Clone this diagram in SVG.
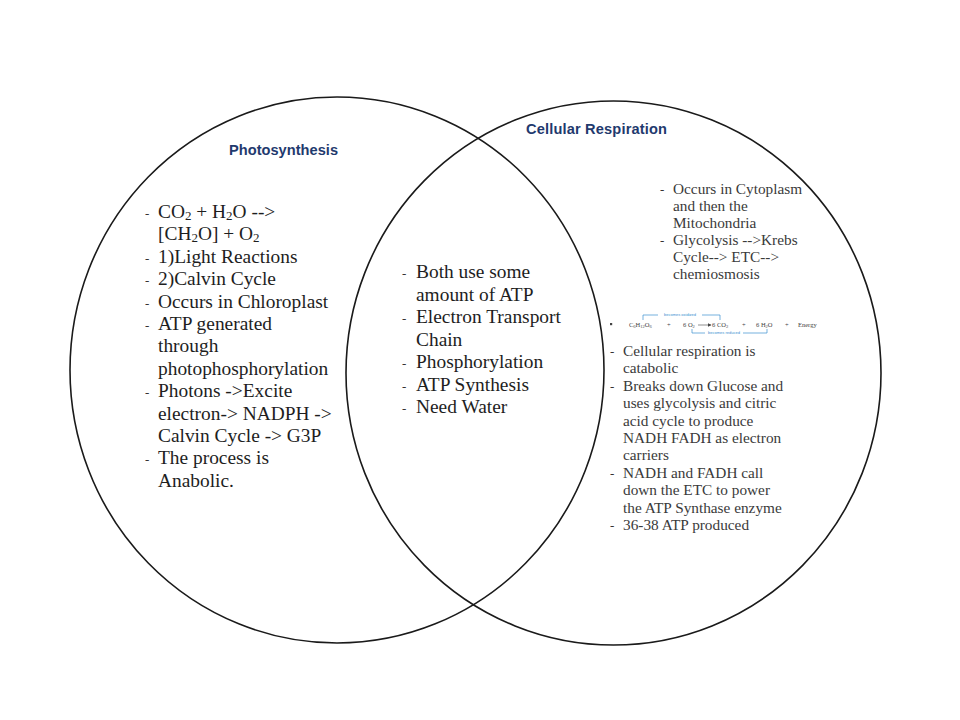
<svg xmlns="http://www.w3.org/2000/svg" width="960" height="720" viewBox="0 0 960 720">
<style>
.ring{fill:none;stroke:#1a1a1a;stroke-width:1.6}
.title{font-family:"Liberation Sans",Arial,sans-serif;font-weight:bold;font-size:14.6px;fill:#1f3a6e}
.body{font-family:"Liberation Serif","Times New Roman",serif;font-size:19.4px;fill:#1e1e1e}
.small{font-family:"Liberation Serif","Times New Roman",serif;font-size:15.3px;fill:#3a3a3a}
.bul{font-family:"Liberation Serif","Times New Roman",serif;font-size:13px;fill:#333}
.eq{font-family:"Liberation Serif","Times New Roman",serif;font-size:6.5px;fill:#444}
.eqlbl{font-family:"Liberation Sans",Arial,sans-serif;font-size:4px;fill:#3a8fd0}
.brk{fill:none;stroke:#3a8fd0;stroke-width:0.7}
</style>
<defs>
<marker id="ah" markerWidth="4" markerHeight="4" refX="3.5" refY="2" orient="auto" markerUnits="userSpaceOnUse">
<path d="M0,0 L4,2 L0,4 Z" fill="#444"/>
</marker>
</defs>
<rect width="960" height="720" fill="#ffffff"/>

<g id="photosynthesis">
<ellipse class="ring" cx="337" cy="370" rx="267" ry="273"/>
<text class="title" x="229" y="155" textLength="109">Photosynthesis</text>
<g class="bul">
<text x="145" y="218">-</text>
<text x="145" y="262.8">-</text>
<text x="145" y="285.2">-</text>
<text x="145" y="307.6">-</text>
<text x="145" y="330">-</text>
<text x="145" y="397.2">-</text>
<text x="145" y="464.4">-</text>
</g>
<g class="body">
<text x="158" y="218">CO<tspan font-size="13" dy="1.5">2</tspan><tspan dy="-1.5"> + H</tspan><tspan font-size="13" dy="1.5">2</tspan><tspan dy="-1.5">O --&gt;</tspan></text>
<text x="158" y="240.4">[CH<tspan font-size="13" dy="1.5">2</tspan><tspan dy="-1.5">O] + O</tspan><tspan font-size="13" dy="1.5">2</tspan></text>
<text x="158" y="262.8">1)Light Reactions</text>
<text x="158" y="285.2">2)Calvin Cycle</text>
<text x="158" y="307.6">Occurs in Chloroplast</text>
<text x="158" y="330">ATP generated</text>
<text x="158" y="352.4">through</text>
<text x="158" y="374.8">photophosphorylation</text>
<text x="158" y="397.2">Photons -&gt;Excite</text>
<text x="158" y="419.6">electron-&gt; NADPH -&gt;</text>
<text x="158" y="442">Calvin Cycle -&gt; G3P</text>
<text x="158" y="464.4">The process is</text>
<text x="158" y="486.8">Anabolic.</text>
</g>
</g>

<g id="respiration">
<ellipse class="ring" cx="613.5" cy="373" rx="267.5" ry="272"/>
<text class="title" x="526" y="134" textLength="141">Cellular Respiration</text>
<g class="bul">
<text x="660" y="193.5">-</text>
<text x="660" y="244.8">-</text>
<text x="610" y="356">-</text>
<text x="610" y="390.8">-</text>
<text x="610" y="477.8">-</text>
<text x="610" y="530">-</text>
</g>
<g class="small">
<text x="673" y="193.5">Occurs in Cytoplasm</text>
<text x="673" y="210.6">and then the</text>
<text x="673" y="227.7">Mitochondria</text>
<text x="673" y="244.8">Glycolysis --&gt;Krebs</text>
<text x="673" y="261.9">Cycle--&gt; ETC--&gt;</text>
<text x="673" y="279">chemiosmosis</text>
<text x="623" y="356">Cellular respiration is</text>
<text x="623" y="373.4">catabolic</text>
<text x="623" y="390.8">Breaks down Glucose and</text>
<text x="623" y="408.2">uses glycolysis and citric</text>
<text x="623" y="425.6">acid cycle to produce</text>
<text x="623" y="443">NADH FADH as electron</text>
<text x="623" y="460.4">carriers</text>
<text x="623" y="477.8">NADH and FADH call</text>
<text x="623" y="495.2">down the ETC to power</text>
<text x="623" y="512.6">the ATP Synthase enzyme</text>
<text x="623" y="530">36-38 ATP produced</text>
</g>
<g id="equation">
<rect x="610" y="323" width="2.2" height="2.2" fill="#444"/>
<g class="eq">
<text x="629" y="327">C<tspan font-size="4.5" dy="1">6</tspan><tspan dy="-1">H</tspan><tspan font-size="4.5" dy="1">12</tspan><tspan dy="-1">O</tspan><tspan font-size="4.5" dy="1">6</tspan></text>
<text x="667" y="327">+</text>
<text x="683" y="327">6 O<tspan font-size="4.5" dy="1">2</tspan></text>
<text x="712" y="327">6 CO<tspan font-size="4.5" dy="1">2</tspan></text>
<text x="742" y="327">+</text>
<text x="756" y="327">6 H<tspan font-size="4.5" dy="1">2</tspan><tspan dy="-1">O</tspan></text>
<text x="785" y="327">+</text>
<text x="798" y="327">Energy</text>
</g>
<line x1="698" y1="325" x2="711" y2="325" stroke="#444" stroke-width="0.6" marker-end="url(#ah)"/>
<path class="brk" d="M643,320 V315 H658 M702,315 H720 V320"/>
<text class="eqlbl" x="680" y="316.4" text-anchor="middle">becomes oxidized</text>
<path class="brk" d="M692,329 V333 H705 M743,333 H767 V329"/>
<text class="eqlbl" x="724" y="334.4" text-anchor="middle">becomes reduced</text>
</g>
</g>

<g id="overlap">
<g class="bul">
<text x="402" y="278.3">-</text>
<text x="402" y="323.3">-</text>
<text x="402" y="368.3">-</text>
<text x="402" y="390.7">-</text>
<text x="402" y="413.3">-</text>
</g>
<g class="body">
<text x="416" y="278.3">Both use some</text>
<text x="416" y="300.7">amount of ATP</text>
<text x="416" y="323.3">Electron Transport</text>
<text x="416" y="346">Chain</text>
<text x="416" y="368.3">Phosphorylation</text>
<text x="416" y="390.7">ATP Synthesis</text>
<text x="416" y="413.3">Need Water</text>
</g>
</g>
</svg>
